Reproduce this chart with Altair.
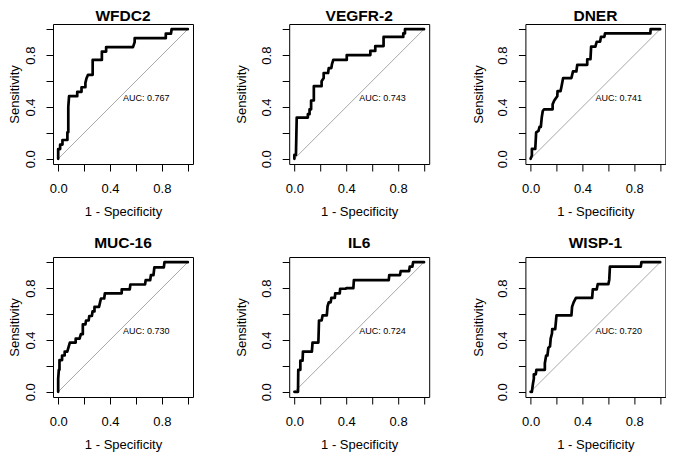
import altair as alt
import pandas as pd

names = ["WFDC2", "VEGFR-2", "DNER", "MUC-16", "IL6", "WISP-1"]
auc_labels = ["AUC: 0.767", "AUC: 0.743", "AUC: 0.741", "AUC: 0.730", "AUC: 0.724", "AUC: 0.720"]
auc_pos = [0.5, 0.5]  # pROC print.auc.x / print.auc.y

fpr_wfdc2 = [0, 0, 0.015, 0.015, 0.033, 0.033, 0.071, 0.071, 0.078, 0.078, 0.084, 0.147, 0.147, 0.18, 0.18,
             0.21, 0.21, 0.218, 0.23, 0.266, 0.266, 0.337, 0.337, 0.37, 0.37, 0.577, 0.59, 0.59, 0.83, 0.83,
             0.87, 0.875, 1.0]
tpr_wfdc2 = [0, 0.075, 0.075, 0.11, 0.11, 0.145, 0.145, 0.205, 0.205, 0.40, 0.483, 0.483, 0.517, 0.517, 0.552,
             0.552, 0.586, 0.62, 0.648, 0.648, 0.763, 0.763, 0.827, 0.827, 0.862, 0.862, 0.90, 0.931, 0.931, 0.965,
             0.965, 1.0, 1.0]

fpr_vegfr2 = [0, 0, 0.012, 0.018, 0.104, 0.104, 0.117, 0.117, 0.129, 0.129, 0.15, 0.15, 0.21, 0.21, 0.226,
              0.226, 0.26, 0.265, 0.285, 0.29, 0.3, 0.404, 0.404, 0.586, 0.586, 0.624, 0.624, 0.688, 0.688,
              0.84, 0.84, 0.853, 0.853, 1.0]
tpr_vegfr2 = [0, 0.03, 0.03, 0.318, 0.318, 0.344, 0.344, 0.382, 0.382, 0.45, 0.45, 0.56, 0.56, 0.598, 0.623,
              0.662, 0.662, 0.70, 0.70, 0.73, 0.763, 0.763, 0.80, 0.80, 0.832, 0.832, 0.87, 0.87, 0.94,
              0.94, 0.967, 0.967, 1.0, 1.0]

fpr_dner = [0, 0.01, 0.01, 0.036, 0.043, 0.061, 0.069, 0.079, 0.086, 0.094, 0.104, 0.17, 0.17, 0.18, 0.188,
            0.206, 0.208, 0.231, 0.239, 0.251, 0.315, 0.327, 0.353, 0.36, 0.437, 0.437, 0.462, 0.467, 0.5,
            0.51, 0.536, 0.543, 0.569, 0.574, 0.924, 0.926, 1.0]
tpr_dner = [0, 0.025, 0.076, 0.076, 0.204, 0.216, 0.247, 0.247, 0.318, 0.369, 0.382, 0.382, 0.42, 0.445, 0.458,
            0.483, 0.522, 0.522, 0.56, 0.623, 0.623, 0.674, 0.674, 0.725, 0.725, 0.768, 0.768, 0.865, 0.865,
            0.903, 0.903, 0.941, 0.941, 0.967, 0.967, 1.0, 1.0]

fpr_muc16 = [0, 0, 0.005, 0.01, 0.01, 0.03, 0.03, 0.05, 0.05, 0.07, 0.09, 0.135, 0.135, 0.165, 0.175, 0.19,
             0.19, 0.21, 0.215, 0.235, 0.24, 0.26, 0.265, 0.28, 0.28, 0.315, 0.33, 0.355, 0.36, 0.49, 0.49,
             0.552, 0.557, 0.67, 0.675, 0.71, 0.715, 0.735, 0.742, 0.815, 0.82, 1.0]
tpr_muc16 = [0, 0.1, 0.17, 0.17, 0.245, 0.245, 0.28, 0.28, 0.31, 0.31, 0.38, 0.38, 0.41, 0.41, 0.445, 0.445,
             0.52, 0.52, 0.55, 0.55, 0.585, 0.585, 0.62, 0.62, 0.655, 0.655, 0.72, 0.72, 0.76, 0.76, 0.79,
             0.79, 0.828, 0.828, 0.862, 0.862, 0.9, 0.9, 0.96, 0.96, 1.0, 1.0]

fpr_il6 = [0, 0.028, 0.03, 0.046, 0.046, 0.063, 0.066, 0.135, 0.14, 0.185, 0.19, 0.21, 0.218, 0.25, 0.256,
           0.265, 0.28, 0.285, 0.312, 0.315, 0.35, 0.353, 0.396, 0.40, 0.455, 0.459, 0.728, 0.732, 0.815,
           0.82, 0.885, 0.89, 0.91, 0.916, 1.0]
tpr_il6 = [0, 0, 0.17, 0.17, 0.24, 0.24, 0.31, 0.31, 0.38, 0.38, 0.55, 0.55, 0.59, 0.59, 0.66, 0.69, 0.69,
           0.725, 0.725, 0.76, 0.76, 0.795, 0.795, 0.80, 0.80, 0.862, 0.862, 0.90, 0.90, 0.931, 0.931,
           0.965, 0.965, 1.0, 1.0]

fpr_wisp1 = [0, 0.01, 0.018, 0.025, 0.025, 0.04, 0.045, 0.11, 0.11, 0.12, 0.13, 0.137, 0.15, 0.155, 0.165,
             0.167, 0.19, 0.2, 0.315, 0.32, 0.332, 0.35, 0.475, 0.48, 0.51, 0.518, 0.6, 0.607, 0.612, 0.85,
             0.855, 1.0]
tpr_wisp1 = [0, 0, 0.06, 0.1, 0.135, 0.135, 0.17, 0.17, 0.22, 0.28, 0.28, 0.34, 0.35, 0.41, 0.45, 0.483,
             0.483, 0.59, 0.59, 0.655, 0.69, 0.725, 0.725, 0.79, 0.79, 0.83, 0.83, 0.865, 0.965, 0.965,
             1.0, 1.0]

fprs = [fpr_wfdc2, fpr_vegfr2, fpr_dner, fpr_muc16, fpr_il6, fpr_wisp1]
tprs = [tpr_wfdc2, tpr_vegfr2, tpr_dner, tpr_muc16, tpr_il6, tpr_wisp1]

tick_values = [0, 0.2, 0.4, 0.6, 0.8, 1.0]
label_values = [0, 0.4, 0.8]
diag = [0, 0, 1, 1]

FONT = "Liberation Sans"
W = 140
H = 140

label_expr = ("(" + " || ".join("datum.value == %s" % v for v in label_values) +
              ") ? format(datum.value, '.1f') : ''")
dom = [-0.04, 1.04]


def panel(k):
    col = k % 3
    row = k // 3
    xs = alt.Scale(domain=dom, nice=False, zero=False)
    ys = alt.Scale(domain=dom, nice=False, zero=False)
    common = dict(values=tick_values, labelExpr=label_expr, grid=False, domain=False, ticks=True,
                  tickSize=7, tickColor="black", tickWidth=1, labelFont=FONT, labelFontSize=13,
                  labelColor="black", labelFlush=False, labelOverlap=False, titleFont=FONT,
                  titleFontSize=13, titleFontWeight="normal", titleColor="black")
    xaxis = alt.Axis(title="1 - Specificity", labelPadding=11.5, titleX=W / 2, titleY=51,
                     titleBaseline="alphabetic", titleAlign="center", **common)
    yaxis = alt.Axis(title="Sensitivity", labelAngle=270, labelAlign="center", labelBaseline="middle",
                     labelPadding=15.5, titleAngle=270, titleBaseline="alphabetic", titleAlign="center",
                     titleX=(-34.4 if col == 0 else -43.4), titleY=H / 2, **common)
    x = alt.X("x:Q", scale=xs, axis=xaxis)
    y = alt.Y("y:Q", scale=ys, axis=yaxis)

    df = pd.DataFrame({"x": fprs[k], "y": tprs[k], "i": list(range(len(fprs[k])))})
    ddf = pd.DataFrame({"x": [diag[0]], "y": [diag[1]], "x2": [diag[2]], "y2": [diag[3]]})
    tdf = pd.DataFrame({"x": [auc_pos[0]], "y": [auc_pos[1]], "label": [auc_labels[k]]})

    dline = alt.Chart(ddf).mark_rule(color="#A8A8A8", strokeWidth=1).encode(
        x=x, y=y, x2="x2:Q", y2="y2:Q")
    roc = alt.Chart(df).mark_line(color="black", strokeWidth=2.7, strokeJoin="round",
                                  strokeCap="round").encode(x=x, y=y, order="i:Q")
    txt = alt.Chart(tdf).mark_text(align="left", baseline="top", font=FONT, fontSize=9,
                                   color="black").encode(x=x, y=y, text="label:N")
    title = alt.TitleParams(text=names[k], font=FONT, fontSize=15.5, fontWeight="bold", color="black",
                            anchor="middle", offset=(0 if row == 0 else 6))
    return alt.layer(dline, roc, txt).properties(width=W, height=H, title=title)


chart = alt.concat(*[panel(k) for k in range(6)], columns=3,
                   spacing={"row": 93, "column": 96.2}, bounds="flush").properties(
    padding=0, background="white"
).configure_view(stroke="black", strokeWidth=1)

chart.save("out.html", embed_options={"renderer": "svg", "actions": False})
